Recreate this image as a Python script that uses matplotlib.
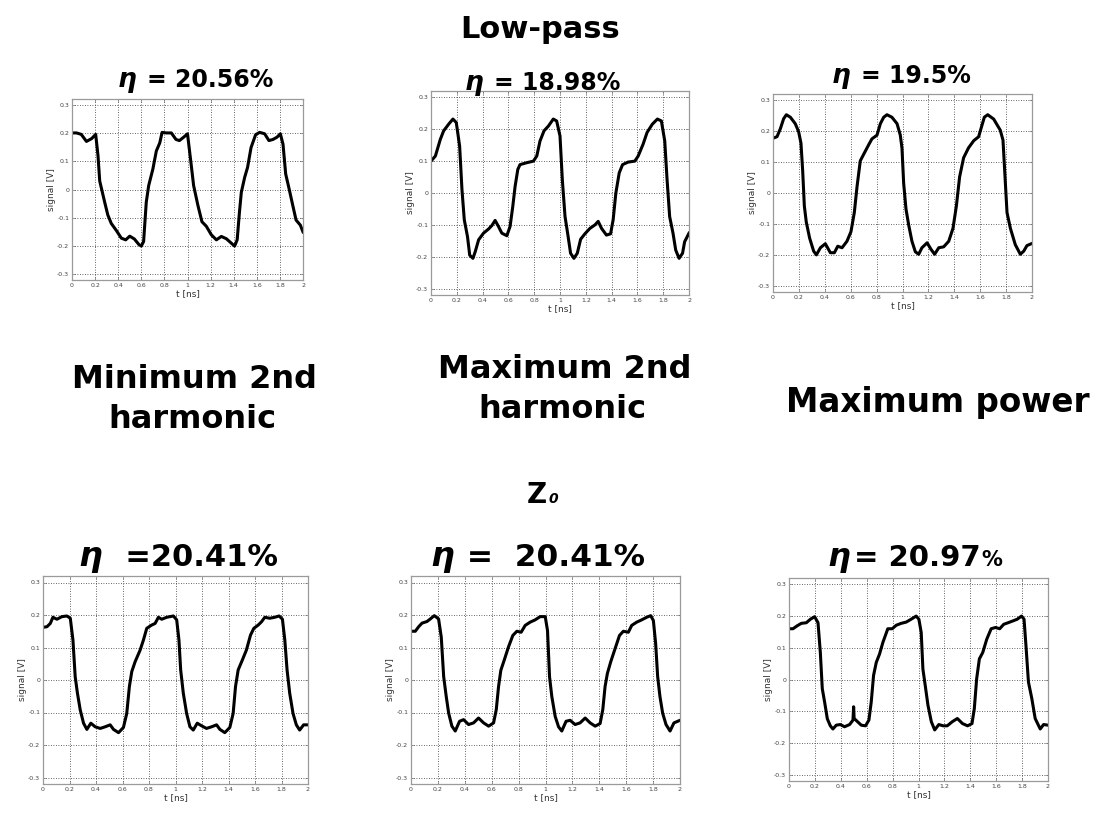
import matplotlib
matplotlib.use("Agg")
import matplotlib.pyplot as plt

W, H = 1105, 814

# ---- waveforms (t in ns, signal in V) ----
t_lp = [0, 0.04, 0.08, 0.125, 0.17, 0.205, 0.225, 0.24, 0.283, 0.31, 0.34, 0.384, 0.427,
        0.465, 0.5, 0.54, 0.58, 0.6, 0.62, 0.643, 0.664, 0.70, 0.73, 0.76, 0.78, 0.817,
        0.86, 0.9, 0.93, 0.967, 1.0, 1.033, 1.053, 1.09, 1.125, 1.163, 1.206, 1.25, 1.293,
        1.336, 1.38, 1.408, 1.43, 1.45, 1.466, 1.495, 1.52, 1.55, 1.59, 1.625, 1.668,
        1.705, 1.74, 1.775, 1.804, 1.827, 1.85, 1.88, 1.908, 1.94, 1.977, 2.0]
v_min2 = [0.20, 0.20, 0.195, 0.17, 0.18, 0.195, 0.12, 0.03, -0.045, -0.09, -0.12, -0.145,
          -0.172, -0.178, -0.165, -0.175, -0.195, -0.2, -0.184, -0.045, 0.014, 0.072, 0.136,
          0.165, 0.202, 0.20, 0.20, 0.177, 0.173, 0.185, 0.197, 0.084, 0.014, -0.056, -0.114,
          -0.13, -0.16, -0.178, -0.166, -0.174, -0.19, -0.2, -0.178, -0.079, -0.01, 0.043,
          0.078, 0.148, 0.194, 0.202, 0.197, 0.173, 0.177, 0.185, 0.197, 0.16, 0.055, 0.002,
          -0.05, -0.108, -0.126, -0.15]

t_max2 = [0, 0.034, 0.072, 0.098, 0.137, 0.17, 0.196, 0.222, 0.24, 0.258, 0.283, 0.3,
          0.325, 0.343, 0.369, 0.407, 0.446, 0.472, 0.497, 0.523, 0.549, 0.588, 0.613,
          0.634, 0.652, 0.673, 0.69, 0.742, 0.794, 0.82, 0.845, 0.876, 0.91, 0.948, 0.974,
          1.0, 1.018, 1.039, 1.059, 1.082, 1.108, 1.134, 1.16, 1.193, 1.232, 1.271, 1.296,
          1.322, 1.36, 1.392, 1.412, 1.433, 1.459, 1.485, 1.528, 1.58, 1.606, 1.644, 1.675,
          1.716, 1.755, 1.786, 1.812, 1.83, 1.85, 1.876, 1.897, 1.923, 1.95, 1.966, 2.0]
v_max2 = [0.10, 0.116, 0.168, 0.195, 0.216, 0.232, 0.221, 0.147, 0.011, -0.084, -0.137,
          -0.195, -0.205, -0.184, -0.147, -0.126, -0.113, -0.102, -0.086, -0.105, -0.126,
          -0.134, -0.105, -0.042, 0.021, 0.074, 0.089, 0.095, 0.10, 0.116, 0.163, 0.195,
          0.21, 0.232, 0.226, 0.179, 0.042, -0.074, -0.126, -0.189, -0.205, -0.189, -0.145,
          -0.128, -0.111, -0.10, -0.089, -0.111, -0.132, -0.128, -0.084, 0.0, 0.063, 0.089,
          0.097, 0.10, 0.116, 0.153, 0.19, 0.216, 0.232, 0.226, 0.163, 0.042, -0.074, -0.126,
          -0.179, -0.205, -0.189, -0.153, -0.126]

t_pow = [0, 0.031, 0.057, 0.082, 0.103, 0.134, 0.172, 0.198, 0.216, 0.229, 0.242, 0.257,
         0.283, 0.314, 0.335, 0.366, 0.404, 0.443, 0.474, 0.5, 0.533, 0.571, 0.602, 0.628,
         0.649, 0.674, 0.7, 0.739, 0.764, 0.803, 0.829, 0.855, 0.88, 0.918, 0.958, 0.983,
         0.996, 1.009, 1.027, 1.048, 1.073, 1.099, 1.125, 1.15, 1.19, 1.22, 1.248, 1.28,
         1.318, 1.357, 1.39, 1.416, 1.441, 1.472, 1.51, 1.55, 1.588, 1.606, 1.632, 1.658,
         1.704, 1.755, 1.776, 1.789, 1.807, 1.833, 1.871, 1.91, 1.936, 1.961, 2.0]
v_pow = [0.177, 0.182, 0.208, 0.24, 0.253, 0.245, 0.224, 0.198, 0.161, 0.073, -0.042,
         -0.094, -0.146, -0.188, -0.2, -0.177, -0.164, -0.193, -0.193, -0.172, -0.177,
         -0.156, -0.125, -0.063, 0.021, 0.104, 0.125, 0.156, 0.175, 0.187, 0.224, 0.245,
         0.253, 0.245, 0.224, 0.187, 0.145, 0.031, -0.052, -0.104, -0.156, -0.19, -0.198,
         -0.177, -0.161, -0.182, -0.198, -0.177, -0.174, -0.156, -0.114, -0.042, 0.052,
         0.114, 0.146, 0.169, 0.182, 0.208, 0.245, 0.253, 0.239, 0.203, 0.171, 0.073,
         -0.063, -0.114, -0.167, -0.198, -0.188, -0.17, -0.163]

t_z0a = [0, 0.03, 0.055, 0.075, 0.105, 0.143, 0.18, 0.206, 0.226, 0.243, 0.26, 0.281,
         0.306, 0.331, 0.361, 0.394, 0.432, 0.469, 0.507, 0.532, 0.57, 0.607, 0.632, 0.652,
         0.67, 0.695, 0.733, 0.758, 0.783, 0.82, 0.846, 0.871, 0.896, 0.934, 0.984, 1.009,
         1.026, 1.039, 1.059, 1.084, 1.109, 1.134, 1.164, 1.197, 1.234, 1.272, 1.31, 1.335,
         1.372, 1.41, 1.435, 1.453, 1.473, 1.505, 1.535, 1.566, 1.591, 1.624, 1.649, 1.674,
         1.711, 1.749, 1.782, 1.807, 1.825, 1.842, 1.862, 1.887, 1.912, 1.937, 1.967, 2.0]
v_z0a = [0.162, 0.164, 0.174, 0.193, 0.187, 0.195, 0.197, 0.19, 0.123, 0.01, -0.041,
         -0.092, -0.133, -0.152, -0.133, -0.144, -0.149, -0.144, -0.138, -0.152, -0.162,
         -0.146, -0.103, -0.02, 0.026, 0.056, 0.092, 0.123, 0.159, 0.169, 0.174, 0.193,
         0.187, 0.193, 0.197, 0.185, 0.123, 0.031, -0.041, -0.103, -0.144, -0.154, -0.133,
         -0.141, -0.149, -0.144, -0.138, -0.152, -0.162, -0.146, -0.103, -0.02, 0.031,
         0.062, 0.092, 0.138, 0.159, 0.169, 0.179, 0.193, 0.19, 0.193, 0.197, 0.187, 0.123,
         0.031, -0.041, -0.103, -0.138, -0.154, -0.138, -0.138]

t_z0b = [0, 0.032, 0.057, 0.082, 0.119, 0.144, 0.173, 0.205, 0.225, 0.243, 0.262, 0.28,
         0.304, 0.329, 0.361, 0.391, 0.428, 0.465, 0.502, 0.54, 0.577, 0.614, 0.634, 0.651,
         0.668, 0.693, 0.725, 0.757, 0.787, 0.819, 0.849, 0.886, 0.923, 0.96, 0.998, 1.015,
         1.03, 1.047, 1.072, 1.097, 1.121, 1.153, 1.183, 1.22, 1.257, 1.295, 1.332, 1.369,
         1.406, 1.426, 1.443, 1.46, 1.485, 1.517, 1.55, 1.579, 1.616, 1.641, 1.678, 1.715,
         1.752, 1.782, 1.802, 1.819, 1.834, 1.851, 1.871, 1.896, 1.926, 1.955, 2.0]
v_z0b = [0.15, 0.15, 0.164, 0.175, 0.18, 0.188, 0.198, 0.188, 0.132, 0.01, -0.051, -0.102,
         -0.142, -0.157, -0.127, -0.122, -0.137, -0.132, -0.117, -0.132, -0.142, -0.132,
         -0.091, -0.02, 0.03, 0.061, 0.102, 0.137, 0.15, 0.147, 0.168, 0.178, 0.185, 0.195,
         0.195, 0.152, 0.01, -0.051, -0.112, -0.144, -0.157, -0.127, -0.124, -0.137, -0.132,
         -0.117, -0.132, -0.142, -0.134, -0.091, -0.02, 0.02, 0.056, 0.096, 0.137, 0.15,
         0.147, 0.168, 0.178, 0.185, 0.193, 0.198, 0.183, 0.112, 0.01, -0.051, -0.102,
         -0.137, -0.157, -0.132, -0.124]

t_z0c = [0, 0.031, 0.062, 0.095, 0.134, 0.165, 0.198, 0.224, 0.242, 0.257, 0.275, 0.296,
         0.319, 0.339, 0.365, 0.396, 0.429, 0.468, 0.494, 0.499, 0.503, 0.524, 0.558,
         0.591, 0.617, 0.635, 0.653, 0.674, 0.699, 0.725, 0.763, 0.797, 0.828, 0.866, 0.905,
         0.943, 0.982, 1.003, 1.021, 1.034, 1.052, 1.073, 1.099, 1.125, 1.157, 1.19, 1.222,
         1.261, 1.3, 1.34, 1.379, 1.413, 1.431, 1.449, 1.47, 1.496, 1.527, 1.561, 1.595,
         1.627, 1.658, 1.692, 1.731, 1.762, 1.796, 1.815, 1.83, 1.849, 1.875, 1.901, 1.94,
         1.966, 2.0]
v_z0c = [0.16, 0.16, 0.169, 0.177, 0.179, 0.19, 0.198, 0.179, 0.085, -0.029, -0.071,
         -0.124, -0.146, -0.156, -0.144, -0.142, -0.149, -0.142, -0.128, -0.086, -0.123,
         -0.131, -0.144, -0.146, -0.128, -0.071, 0.013, 0.054, 0.08, 0.117, 0.16, 0.16,
         0.171, 0.177, 0.181, 0.19, 0.2, 0.19, 0.148, 0.033, -0.019, -0.081, -0.133, -0.159,
         -0.142, -0.146, -0.146, -0.133, -0.123, -0.139, -0.146, -0.139, -0.092, 0.002,
         0.065, 0.085, 0.127, 0.16, 0.164, 0.16, 0.174, 0.179, 0.185, 0.19, 0.2, 0.19,
         0.106, -0.008, -0.06, -0.123, -0.156, -0.142, -0.144]

x_ticks = [0, 0.2, 0.4, 0.6, 0.8, 1, 1.2, 1.4, 1.6, 1.8, 2]
x_labels = ["0", "0.2", "0.4", "0.6", "0.8", "1", "1.2", "1.4", "1.6", "1.8", "2"]
y_ticks = [-0.3, -0.2, -0.1, 0, 0.1, 0.2, 0.3]
y_labels = ["-0.3", "-0.2", "-0.1", "0", "0.1", "0.2", "0.3"]

# panel boxes in pixels: left, top, right, bottom
panels = [
    ((72, 99, 303, 280), t_lp, v_min2),
    ((431, 91, 689, 295), t_max2, v_max2),
    ((773, 94, 1032, 292), t_pow, v_pow),
    ((43, 576, 308, 784), t_z0a, v_z0a),
    ((411, 576, 680, 784), t_z0b, v_z0b),
    ((789, 578, 1048, 781), t_z0c, v_z0c),
]

fig = plt.figure(figsize=(W / 100, H / 100), dpi=100)
fig.patch.set_facecolor("white")

for (l, t, r, b), tt, vv in panels:
    ax = fig.add_axes([l / W, 1 - b / H, (r - l) / W, (b - t) / H])
    ax.plot(tt, vv, color="black", lw=2.2, solid_joinstyle="round")
    ax.set_xlim(0, 2)
    ax.set_ylim(-0.32, 0.32)
    ax.set_xticks(x_ticks)
    ax.set_xticklabels(x_labels)
    ax.set_yticks(y_ticks)
    ax.set_yticklabels(y_labels)
    ax.grid(True, color="#333333", linestyle=(0, (1, 2)), lw=0.6)
    ax.tick_params(direction="in", length=2.5, width=0.5, top=True, right=True,
                   labelsize=4.5, labelcolor="#444444", color="#777777", pad=2)
    for sp in ax.spines.values():
        sp.set_color("#9a9a9a")
        sp.set_linewidth(0.9)
    ax.set_xlabel("t [ns]", fontsize=6.5, color="#333333", labelpad=1)
    ax.set_ylabel("signal [V]", fontsize=6.5, color="#333333", labelpad=1)


def ftext(x, y, s, size, ha="center", **kw):
    return fig.text(x / W, 1 - y / H, s, fontsize=size, ha=ha, va="baseline",
                    fontweight="bold", color="black", **kw)


renderer = fig.canvas.get_renderer()


def chain(x, y, pieces):
    # place pieces left to right, each starting where the previous one ended
    for s, size, style, gap in pieces:
        txt = ftext(x + gap, y, s, size, ha="left", style=style)
        x = txt.get_window_extent(renderer).x1


# headings
ftext(540, 38, "Low-pass", 22)
ftext(195, 388, "Minimum 2nd", 23)
ftext(192, 428, "harmonic", 23)
ftext(565, 378, "Maximum 2nd", 23)
ftext(562, 418, "harmonic", 23)
ftext(938, 412, "Maximum power", 23.5)
chain(527, 503, [("Z", 20, "normal", 0), ("0", 10, "italic", 1)])

# efficiency labels: eta in italic, numbers upright
chain(118, 87, [("η", 19, "italic", 0), ("= 20.56%", 17, "normal", 10)])
chain(465, 90, [("η", 19, "italic", 0), ("= 18.98%", 17, "normal", 10)])
chain(832, 83, [("η", 19, "italic", 0), ("= 19.5%", 17, "normal", 10)])
chain(78, 566, [("η", 24, "italic", 0), ("  =20.41%", 22, "normal", 2)])
chain(430, 566, [("η", 24, "italic", 0), (" =  20.41%", 22.5, "normal", 2)])
chain(827, 566, [("η", 23, "italic", 0), ("= 20.97", 21, "normal", 4),
                 ("%", 15, "normal", 1)])

fig.savefig("out.png", dpi=100, facecolor="white")
